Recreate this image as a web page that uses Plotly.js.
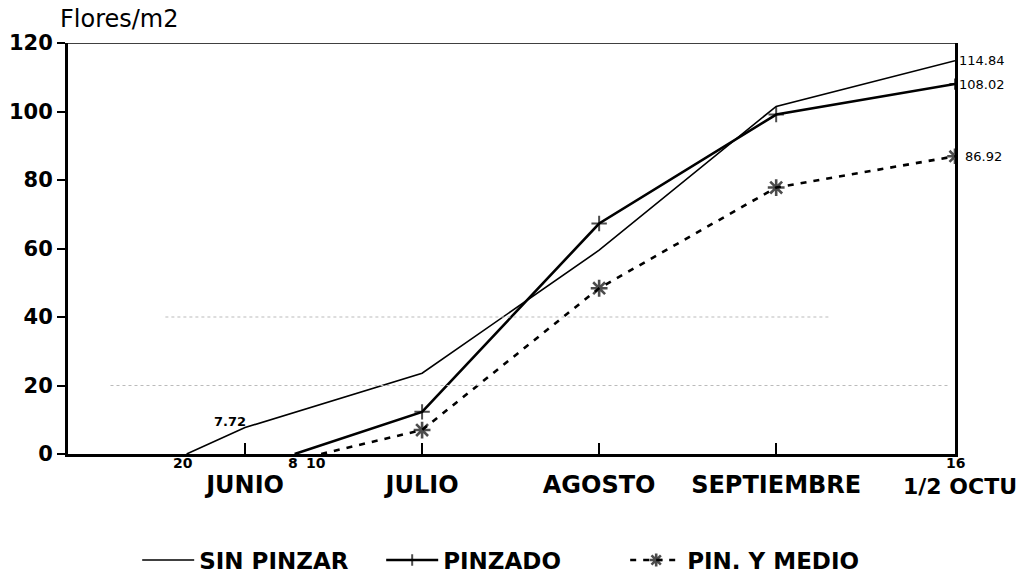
<!DOCTYPE html>
<html>
<head>
<meta charset="utf-8">
<script src="https://cdn.plot.ly/plotly-3.0.1.min.js"></script>
<style>html,body{margin:0;padding:0;background:#fff;}#chart{width:1021px;height:580px;}</style>
</head>
<body>
<div id="chart"></div>
<script>
// Month tick labels (x in month units from the left edge of the axis)
const monthTicks = [1, 2, 3, 4];
const monthLabels = ["JUNIO", "JULIO", "AGOSTO", "SEPTIEMBRE"];

// Series
const sinPinzarX = [0.67, 1, 2, 3, 4, 5.01];
const sinPinzarY = [0, 7.72, 23.6, 59.5, 101.5, 114.84];

const pinzadoX = [1.28, 2, 3, 4, 5.01];
const pinzadoY = [0, 12.3, 67.3, 99.1, 108.02];

const pinMedioX = [1.43, 2, 3, 4, 5.01];
const pinMedioY = [0, 7.0, 48.4, 77.8, 86.92];

// Day labels under the axis
const dayLabels = ["20", "8", "10", "16"];
const dayLabelX = [0.65, 1.27, 1.40, 5.01];

const boldFont = "DejaVu Sans, sans-serif";

const traces = [
  {
    x: sinPinzarX, y: sinPinzarY, name: "SIN PINZAR", type: "scatter", mode: "lines",
    line: {color: "#000", width: 1.6}
  },
  {
    x: pinzadoX, y: pinzadoY, name: "PINZADO", type: "scatter", mode: "lines+markers",
    line: {color: "#000", width: 2.6},
    marker: {symbol: "cross-thin-open", size: [0, 11, 11, 11, 8], color: "#000", line: {width: 2, color: "#000"}}
  },
  {
    x: pinMedioX, y: pinMedioY, name: "PIN. Y MEDIO", type: "scatter", mode: "lines+markers",
    line: {color: "#000", width: 2.6, dash: "6px,7px"},
    marker: {symbol: "asterisk-open", size: [0, 14, 14, 14, 13], color: "#000", line: {width: 2.6, color: "#000"}}
  }
];

const annotations = [];
for (let i = 0; i < dayLabels.length; i++) {
  annotations.push({
    x: dayLabelX[i], y: 0, xref: "x", yref: "y", text: "<b>" + dayLabels[i] + "</b>",
    showarrow: false, yanchor: "top", yshift: 0, borderpad: 0,
    font: {family: boldFont, size: 14, color: "#000"}
  });
}
annotations.push({
  x: sinPinzarX[1], y: sinPinzarY[1], xref: "x", yref: "y", text: "<b>" + sinPinzarY[1].toFixed(2) + "</b>",
  showarrow: false, xanchor: "right", yanchor: "middle", xshift: 3, yshift: 6,
  font: {family: boldFont, size: 13, color: "#000"}
});
const endVals = [[sinPinzarX, sinPinzarY], [pinzadoX, pinzadoY], [pinMedioX, pinMedioY]];
endVals.forEach(function (s, k) {
  const n = s[0].length - 1;
  annotations.push({
    x: s[0][n], y: s[1][n], xref: "x", yref: "y", text: s[1][n].toFixed(2),
    showarrow: false, xanchor: "left", xshift: k === 2 ? 8 : 2,
    font: {family: boldFont, size: 13, color: "#000"}
  });
});
annotations.push({
  x: 5.01, y: 0, xref: "x", yref: "y", text: "<b>1/2 OCTU</b>", showarrow: false,
  yanchor: "top", yshift: -19, xshift: 5, borderpad: 0,
  font: {family: boldFont, size: 22, color: "#000"}
});

const layout = {
  width: 1021, height: 580,
  margin: {l: 68, r: 66, t: 43, b: 126, autoexpand: false},
  paper_bgcolor: "#fff", plot_bgcolor: "#fff",
  showlegend: true,
  title: {
    text: "Flores/m2", xref: "container", x: 60 / 1021, xanchor: "left",
    yref: "container", y: 1 - 19 / 580, yanchor: "middle",
    font: {family: "DejaVu Sans, sans-serif", size: 24, color: "#000"}
  },
  xaxis: {
    range: [0, 5.01], showgrid: false, zeroline: false,
    showline: true, linewidth: 3, linecolor: "#000",
    tickmode: "array", tickvals: monthTicks, ticktext: monthLabels.map(function (m) { return "<b>" + m + "</b>"; }),
    ticks: "inside", ticklen: 11, tickwidth: 2, tickcolor: "#000",
    ticklabelstandoff: 7,
    tickfont: {family: boldFont, size: 24, color: "#000"}
  },
  yaxis: {
    range: [0, 120], showgrid: false, zeroline: false,
    showline: true, linewidth: 3, linecolor: "#000", mirror: true,
    tickmode: "linear", tick0: 0, dtick: 20,
    ticks: "outside", ticklen: 8, tickwidth: 2, tickcolor: "#000",
    tickfont: {family: boldFont, size: 21, color: "#000"}
  },
  shapes: [
    {type: "line", xref: "x", yref: "y", x0: 0, x1: 5.01, y0: 120, y1: 120, line: {color: "#000", width: 1.5}},
    {type: "line", xref: "x", yref: "y", x0: 0.24, x1: 4.97, y0: 20, y1: 20, line: {color: "#bbb", width: 1, dash: "dot"}},
    {type: "line", xref: "x", yref: "y", x0: 0.55, x1: 4.3, y0: 40, y1: 40, line: {color: "#bbb", width: 1, dash: "dot"}}
  ],
  legend: {
    orientation: "h", x: 0.078, xanchor: "left", y: -0.258, yanchor: "middle",
    font: {family: boldFont, size: 23, color: "#000", weight: "bold"},
    itemwidth: 52, entrywidth: 177, traceorder: "normal"
  },
  annotations: annotations
};
layout.xaxis.tickfont.weight = "bold";
layout.yaxis.tickfont.weight = "bold";

Plotly.newPlot("chart", traces, layout, {displayModeBar: false, staticPlot: true});
</script>
</body>
</html>
